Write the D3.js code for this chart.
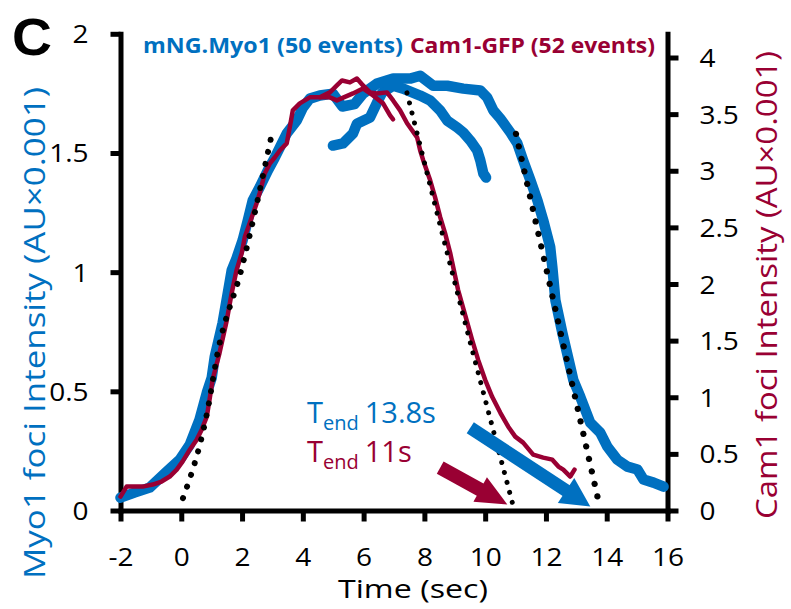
<!DOCTYPE html>
<html><head><meta charset="utf-8">
<script src="https://cdn.jsdelivr.net/npm/d3@7"></script>
<style>html,body{margin:0;padding:0;background:#fff;} svg{display:block;}</style>
</head><body><svg id="c" width="791" height="609"></svg>
<script>
// ---------- data ----------
const xTicks = [-2, 0, 2, 4, 6, 8, 10, 12, 14, 16];
const leftTicks = [0, 0.5, 1, 1.5, 2];
const rightTicks = [0, 0.5, 1, 1.5, 2, 2.5, 3, 3.5, 4];
const legendLabels = ["mNG.Myo1 (50 events)", "Cam1-GFP (52 events)"];
const tEndLabels = ["13.8s", "11s"];
const xTitle = "Time (sec)";
const leftTitle = "Myo1 foci Intensity (AU×0.001)";
const rightTitle = "Cam1 foci Intensity (AU×0.001)";

// Myo1 mean trace (left axis units)
const myo1Main = [
  [-2.0,0.054],[-1.54,0.075],[-1.04,0.096],[-0.48,0.163],[-0.05,0.213],[0.28,0.276],
  [0.60,0.381],[0.84,0.494],[1.0,0.556],[1.10,0.644],[1.36,0.787],[1.53,0.912],
  [1.66,1.008],[1.82,1.059],[2.02,1.134],[2.19,1.218],[2.35,1.301],[2.58,1.356],
  [2.85,1.427],[3.08,1.481],[3.31,1.540],[3.47,1.582],[3.80,1.636],[4.00,1.690],
  [4.23,1.728],[4.56,1.741],[4.99,1.749],[5.30,1.695],[5.70,1.705],[5.98,1.749],
  [6.44,1.791],[6.97,1.812],[7.53,1.812],[7.86,1.824],[8.29,1.782],[8.75,1.782],
  [9.28,1.770],[9.84,1.762],[10.07,1.732],[10.27,1.678],[10.50,1.644],[10.83,1.586],
  [11.06,1.540],[11.25,1.469],[11.49,1.385],[11.72,1.301],[11.91,1.218],[12.14,1.105],
  [12.21,1.021],[12.31,0.883],[12.54,0.745],[12.80,0.603],[12.90,0.548],[13.13,0.477],
  [13.46,0.368],[13.79,0.326],[14.02,0.268],[14.35,0.213],[14.68,0.184],[15.01,0.172],
  [15.21,0.130],[15.54,0.117],[15.87,0.100]
];
const myo1Branch = [
  [4.99,1.531],[5.32,1.540],[5.65,1.582],[5.78,1.623],[6.21,1.649],[6.44,1.711],
  [6.61,1.753],[6.97,1.782],[7.30,1.770],[7.86,1.741],[8.19,1.720],[8.52,1.678],
  [8.75,1.636],[9.08,1.607],[9.28,1.586],[9.51,1.552],[9.74,1.510],[9.84,1.469],
  [9.94,1.414],[10.03,1.397]
];
// Cam1 mean trace (right axis units)
const cam1Main = [
  [-2.0,0.123],[-1.80,0.211],[-1.27,0.211],[-0.94,0.229],[-0.65,0.256],[-0.38,0.300],
  [-0.15,0.361],[0.04,0.432],[0.28,0.537],[0.51,0.626],[0.67,0.714],[0.84,0.828],
  [0.93,0.978],[1.03,1.154],[1.26,1.392],[1.50,1.683],[1.66,1.921],[1.82,2.123],
  [1.99,2.273],[2.09,2.414],[2.32,2.590],[2.48,2.714],[2.58,2.802],[2.75,2.978],
  [2.92,3.066],[3.08,3.119],[3.25,3.181],[3.47,3.242],[3.57,3.383],[3.67,3.533],
  [3.90,3.595],[4.23,3.648],[4.56,3.648],[4.89,3.692],[5.12,3.753],[5.29,3.797],
  [5.55,3.780],[5.78,3.815],[5.98,3.753],[6.21,3.692],[6.44,3.683],[6.77,3.692],
  [6.97,3.621],[7.20,3.533],[7.43,3.419],[7.76,3.295],[7.86,3.181],[7.96,3.093],
  [8.19,2.916],[8.35,2.767],[8.52,2.590],[8.68,2.449],[8.85,2.273],[9.11,1.947],
  [9.34,1.727],[9.57,1.507],[9.77,1.330],[10.00,1.154],[10.23,1.004],[10.50,0.863],
  [10.76,0.740],[10.99,0.652],[11.25,0.599],[11.58,0.493],[11.91,0.467],[12.21,0.449],
  [12.41,0.388],[12.57,0.361],[12.80,0.300],[12.94,0.361]
];
const cam1Branch = [
  [4.56,3.648],[4.89,3.648],[5.12,3.621],[5.65,3.683],[5.98,3.727],[6.31,3.665],
  [6.64,3.595],[6.87,3.489],[6.97,3.454]
];
// fitted lines (left axis units)
const fitRise = [[0.057,0.052],[0.879,0.430],[1.175,0.648],[1.998,1.021],[2.952,1.563]];
const fitMyo1Fall = [[11.014,1.580],[12.36,0.816],[13.78,0.0105]];
const fitCam1Fall = [[7.427,1.752],[8.776,1.068],[10.915,0.023]];
// annotation arrows (left axis units): start, tip
const arrowMyo1 = [[9.51,0.347],[13.46,0.017]];
const arrowCam1 = [[8.52,0.18],[10.73,0.025]];

// ---------- drawing ----------
const BLUE = "#0070C0", RED = "#990033";
const FONT = "'Open Sans', 'Noto Sans', sans-serif";
const svg = d3.select("#c");
const x = d3.scaleLinear().domain([-2, 16]).range([120.5, 667.5]);
const yL = d3.scaleLinear().domain([0, 2]).range([510.5, 33.8]);
const rTop = 4 * (510.5 - 33.8) / (510.5 - 57.5);
const yR = d3.scaleLinear().domain([0, rTop]).range([510.5, 33.8]);
const fmt = d => String(d);

function styleAxis(g) {
  g.select(".domain").attr("stroke", "#000").attr("stroke-width", 5).attr("stroke-linecap", "square");
  g.selectAll(".tick line").attr("stroke", "#000").attr("stroke-width", 5);
  g.selectAll(".tick text").attr("fill", "#000").style("font-family", FONT).style("font-size", "25px");
}
function stretch(sel, k) {
  sel.each(function () {
    const len = this.getComputedTextLength();
    d3.select(this).attr("textLength", len * k).attr("lengthAdjust", "spacingAndGlyphs");
  });
}

const gx = svg.append("g").attr("transform", "translate(0,510.5)")
  .call(d3.axisBottom(x).tickValues(xTicks).tickSize(11).tickSizeOuter(0).tickFormat(fmt));
styleAxis(gx);
gx.selectAll(".tick text").attr("y", 55).attr("dy", 0);
stretch(gx.selectAll(".tick text"), 1.12);

const gl = svg.append("g").attr("transform", "translate(120.5,0)")
  .call(d3.axisLeft(yL).tickValues(leftTicks).tickSize(10).tickSizeOuter(0).tickFormat(fmt));
styleAxis(gl);
gl.selectAll(".tick text").attr("x", -32).attr("dy", "0.36em");
stretch(gl.selectAll(".tick text"), 1.12);

const gr = svg.append("g").attr("transform", "translate(667.5,0)")
  .call(d3.axisRight(yR).tickValues(rightTicks).tickSize(11).tickSizeOuter(0).tickFormat(fmt));
styleAxis(gr);
gr.selectAll(".tick text").attr("x", 32).attr("dy", "0.36em");
stretch(gr.selectAll(".tick text"), 1.12);

// traces
const lineL = d3.line().x(d => x(d[0])).y(d => yL(d[1]));
const lineR = d3.line().x(d => x(d[0])).y(d => yR(d[1]));
const plot = svg.append("g");
[myo1Branch, myo1Main].forEach(s => plot.append("path").attr("d", lineL(s))
  .attr("fill", "none").attr("stroke", BLUE).attr("stroke-width", 10.5)
  .attr("stroke-linejoin", "round").attr("stroke-linecap", "round"));
[cam1Branch, cam1Main].forEach(s => plot.append("path").attr("d", lineR(s))
  .attr("fill", "none").attr("stroke", RED).attr("stroke-width", 4.5)
  .attr("stroke-linejoin", "round").attr("stroke-linecap", "round"));

// dotted fits
[[fitRise, 6, 12.3], [fitMyo1Fall, 6.3, 12.8], [fitCam1Fall, 5, 10.3]].forEach(([s, w, gap]) =>
  plot.append("path").attr("d", d3.line().x(d => x(d[0])).y(d => yL(d[1])).curve(d3.curveMonotoneX)(s))
    .attr("fill", "none").attr("stroke", "#000").attr("stroke-width", w)
    .attr("stroke-linecap", "round").attr("stroke-dasharray", `0.01 ${gap}`));

// arrows
function arrow(a, color, shaftW, headLen, headHW) {
  const sx = x(a[0][0]), sy = yL(a[0][1]), tx = x(a[1][0]), ty = yL(a[1][1]);
  const L = Math.hypot(tx - sx, ty - sy), ux = (tx - sx) / L, uy = (ty - sy) / L;
  const bx = tx - ux * headLen, by = ty - uy * headLen, px = -uy, py = ux;
  svg.append("line").attr("x1", sx).attr("y1", sy).attr("x2", bx + ux * 2).attr("y2", by + uy * 2)
    .attr("stroke", color).attr("stroke-width", shaftW);
  svg.append("polygon").attr("fill", color)
    .attr("points", [[tx, ty], [bx + px * headHW, by + py * headHW], [bx - px * headHW, by - py * headHW]].map(p => p.join(",")).join(" "));
}
arrow(arrowMyo1, BLUE, 13, 29, 15);
arrow(arrowCam1, RED, 14, 31, 14);

// T_end labels
function tEnd(label, color, y0) {
  const t = svg.append("text").attr("x", 307).attr("y", y0).attr("fill", color).style("font-family", FONT);
  t.append("tspan").style("font-size", "29px").text("T");
  t.append("tspan").style("font-size", "20px").attr("dy", 7).text("end");
  t.append("tspan").style("font-size", "29px").attr("dy", -7).attr("dx", 6).text(label);
}
tEnd(tEndLabels[0], BLUE, 423);
tEnd(tEndLabels[1], RED, 462);

// legend
svg.append("text").attr("x", 143).attr("y", 53).attr("fill", BLUE)
  .style("font-family", FONT).style("font-weight", "bold").style("font-size", "21px")
  .attr("textLength", 260).attr("lengthAdjust", "spacingAndGlyphs").text(legendLabels[0]);
svg.append("text").attr("x", 410).attr("y", 53).attr("fill", RED)
  .style("font-family", FONT).style("font-weight", "bold").style("font-size", "21px")
  .attr("textLength", 245).attr("lengthAdjust", "spacingAndGlyphs").text(legendLabels[1]);

// panel letter
svg.append("text").attr("x", 12).attr("y", 55).attr("fill", "#000")
  .style("font-family", "'Liberation Sans', Arial, sans-serif").style("font-weight", "bold").style("font-size", "52px")
  .attr("textLength", 40).attr("lengthAdjust", "spacingAndGlyphs").text("C");

// axis titles
svg.append("text").attr("x", 413).attr("y", 598).attr("text-anchor", "middle").attr("fill", "#000")
  .style("font-family", FONT).style("font-size", "26px")
  .attr("textLength", 150).attr("lengthAdjust", "spacingAndGlyphs").text(xTitle);
svg.append("text").attr("transform", "translate(45,333) rotate(-90)").attr("text-anchor", "middle").attr("fill", BLUE)
  .style("font-family", FONT).style("font-size", "30px")
  .attr("textLength", 492).attr("lengthAdjust", "spacingAndGlyphs").text(leftTitle);
svg.append("text").attr("transform", "translate(777,285) rotate(-90)").attr("text-anchor", "middle").attr("fill", RED)
  .style("font-family", FONT).style("font-size", "30px")
  .attr("textLength", 468).attr("lengthAdjust", "spacingAndGlyphs").text(rightTitle);
</script>
</body></html>
